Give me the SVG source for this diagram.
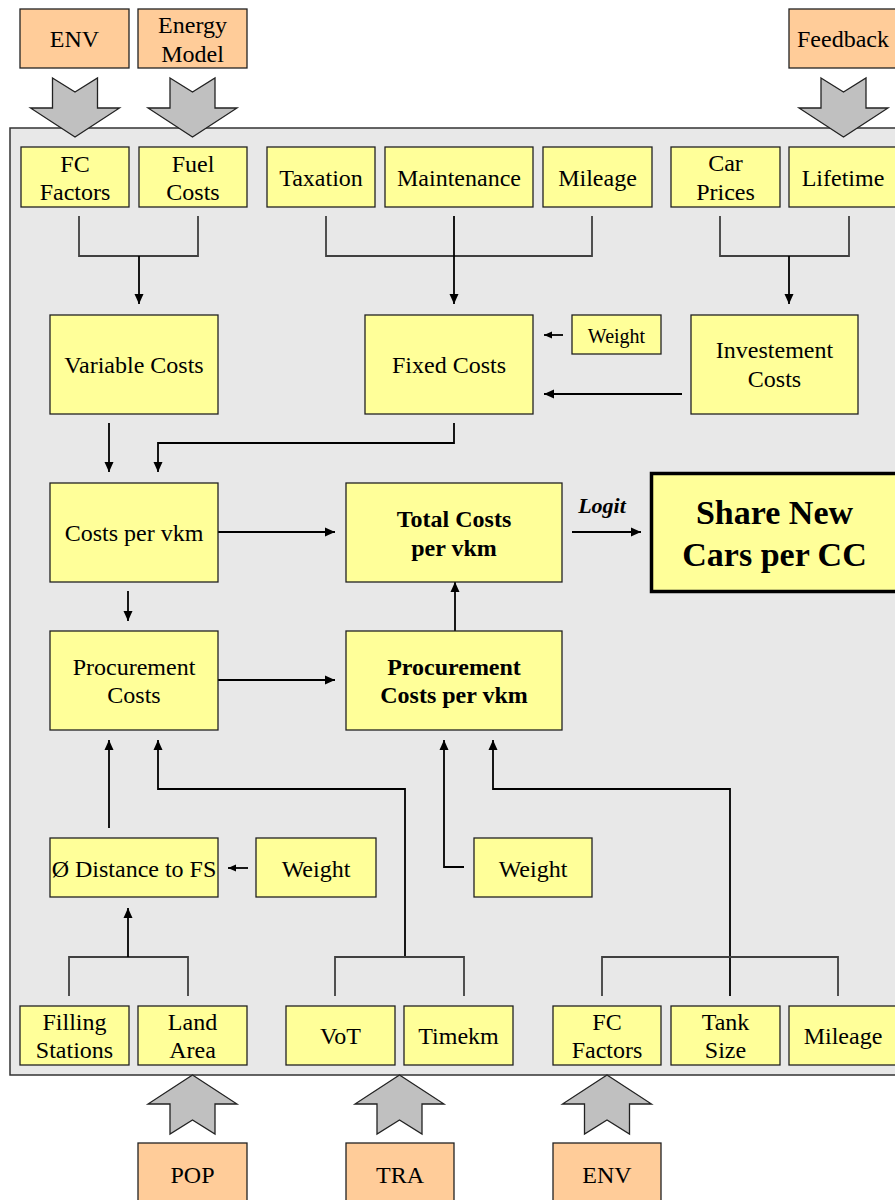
<svg xmlns="http://www.w3.org/2000/svg" width="895" height="1200" viewBox="0 0 895 1200">
<defs>
<marker id="ah" markerUnits="userSpaceOnUse" markerWidth="10" markerHeight="10" refX="10" refY="5" orient="auto">
<path d="M0,0.5 L10,5 L0,9.5 z" fill="#000"/>
</marker>
<marker id="ahs" markerUnits="userSpaceOnUse" markerWidth="8" markerHeight="8" refX="8" refY="4" orient="auto">
<path d="M0,0.5 L8,4 L0,7.5 z" fill="#000"/>
</marker>
<style>
text{font-family:"Liberation Serif","Times New Roman",serif;font-size:24px;fill:#000;text-anchor:middle}
.b{font-weight:bold}
.y{fill:#FFFF99;stroke:#222;stroke-width:1.3}
.o{fill:#FFCC99;stroke:#222;stroke-width:1.3}
.big{fill:#C0C0C0;stroke:#222;stroke-width:1.3;stroke-linejoin:miter}
.br{fill:none;stroke:#404040;stroke-width:1.8}
.ar{fill:none;stroke:#000;stroke-width:1.8;marker-end:url(#ah)}
.as{fill:none;stroke:#000;stroke-width:1.8;marker-end:url(#ahs)}
</style>
</defs>
<rect width="895" height="1200" fill="#fff"/>
<rect id="container" x="10" y="128" width="895" height="947" fill="#E8E8E8" stroke="#333" stroke-width="1.5"/>

<g id="connectors">
<path class="br" d="M79,216 V256 H198 V216"/>
<path class="ar" d="M139,256 V304"/>
<path class="br" d="M326,216 V256 H592 V216"/>
<path class="ar" d="M454,216 V304"/>
<path class="br" d="M720,216 V256 H849 V216"/>
<path class="ar" d="M789,256 V304"/>
<path class="as" d="M563,335 H544"/>
<path class="ar" d="M682,394 H544"/>
<path class="ar" d="M109,423 V472"/>
<path class="ar" d="M454,423 V443 H158 V472"/>
<path class="ar" d="M218,532 H335"/>
<path class="ar" d="M572,532 H641"/>
<path class="ar" d="M128,591 V621"/>
<path class="ar" d="M218,680 H335"/>
<path class="ar" d="M455,631 V582"/>
<path class="ar" d="M109,828 V740"/>
<path class="ar" d="M405,957 V789 H158 V740"/>
<path class="ar" d="M464,867 H444 V740"/>
<path class="ar" d="M730,996 V789 H493 V740"/>
<path class="as" d="M248,868 H228"/>
<path class="br" d="M69,996 V957 H188 V996"/>
<path class="ar" d="M128,957 V908"/>
<path class="br" d="M335,996 V957 H464 V996"/>
<path class="br" d="M602,996 V957 H838 V996"/>
</g>

<g id="n-env-top"><rect class="o" x="20" y="9" width="109" height="59"/><text x="74.5" y="47">ENV</text></g>
<g id="n-energy"><rect class="o" x="138" y="9" width="109" height="59"/><text x="192.5" y="33">Energy</text><text x="192.5" y="62">Model</text></g>
<g id="n-feedback"><rect class="o" x="789" y="9" width="110" height="59"/><text x="843" y="47">Feedback</text></g>

<g id="a-env-top"><path class="big" d="M52.5,78 L75,92 L97.5,78 V108 H119.5 L75,137 L30.5,108 H52.5 Z"/></g>
<g id="a-energy"><path class="big" d="M170,78 L192.5,92 L215,78 V108 H237 L192.5,137 L148,108 H170 Z"/></g>
<g id="a-feedback"><path class="big" d="M821,78 L843.5,92 L866,78 V108 H888 L843.5,137 L799,108 H821 Z"/></g>

<g id="n-fc-top"><rect class="y" x="21" y="147" width="108" height="60"/><text x="75" y="172">FC</text><text x="75" y="200">Factors</text></g>
<g id="n-fuel"><rect class="y" x="139" y="147" width="108" height="60"/><text x="193" y="172">Fuel</text><text x="193" y="200">Costs</text></g>
<g id="n-tax"><rect class="y" x="267" y="147" width="108" height="60"/><text x="321" y="186">Taxation</text></g>
<g id="n-maint"><rect class="y" x="385" y="147" width="148" height="60"/><text x="459" y="186">Maintenance</text></g>
<g id="n-mileage-top"><rect class="y" x="543" y="147" width="109" height="60"/><text x="597.5" y="186">Mileage</text></g>
<g id="n-carprices"><rect class="y" x="671" y="147" width="109" height="60"/><text x="725.5" y="171">Car</text><text x="725.5" y="200">Prices</text></g>
<g id="n-lifetime"><rect class="y" x="789" y="147" width="110" height="60"/><text x="843" y="186">Lifetime</text></g>

<g id="n-varcosts"><rect class="y" x="50" y="315" width="168" height="99"/><text x="134" y="373">Variable Costs</text></g>
<g id="n-fixed"><rect class="y" x="365" y="315" width="168" height="99"/><text x="449" y="373">Fixed Costs</text></g>
<g id="n-weight1"><rect class="y" x="572" y="315" width="89" height="39"/><text x="616.5" y="343" style="font-size:20px">Weight</text></g>
<g id="n-invest"><rect class="y" x="691" y="315" width="167" height="99"/><text x="774.5" y="358">Investement</text><text x="774.5" y="387">Costs</text></g>

<g id="n-costsvkm"><rect class="y" x="50" y="483" width="168" height="99"/><text x="134" y="541">Costs per vkm</text></g>
<g id="n-total"><rect class="y" x="346" y="483" width="216" height="99"/><text class="b" x="454" y="527">Total Costs</text><text class="b" x="454" y="556">per vkm</text></g>
<text class="b" x="602" y="513" style="font-style:italic;font-size:22px">Logit</text>
<g id="n-share"><rect x="651.5" y="473.5" width="250" height="118" fill="#FFFF99" stroke="#000" stroke-width="3.5"/><text class="b" x="774.5" y="524" style="font-size:34px">Share New</text><text class="b" x="774.5" y="566" style="font-size:34px">Cars per CC</text></g>

<g id="n-proc"><rect class="y" x="50" y="631" width="168" height="99"/><text x="134" y="675">Procurement</text><text x="134" y="703">Costs</text></g>
<g id="n-procvkm"><rect class="y" x="346" y="631" width="216" height="99"/><text class="b" x="454" y="675">Procurement</text><text class="b" x="454" y="703">Costs per vkm</text></g>

<g id="n-dist"><rect class="y" x="50" y="838" width="168" height="59"/><text x="134" y="877">Ø Distance to FS</text></g>
<g id="n-weight2"><rect class="y" x="256" y="838" width="120" height="59"/><text x="316" y="877">Weight</text></g>
<g id="n-weight3"><rect class="y" x="474" y="838" width="118" height="59"/><text x="533" y="877">Weight</text></g>

<g id="n-filling"><rect class="y" x="20" y="1006" width="109" height="59"/><text x="74.5" y="1030">Filling</text><text x="74.5" y="1058">Stations</text></g>
<g id="n-land"><rect class="y" x="138" y="1006" width="109" height="59"/><text x="192.5" y="1030">Land</text><text x="192.5" y="1058">Area</text></g>
<g id="n-vot"><rect class="y" x="286" y="1006" width="109" height="59"/><text x="340.5" y="1044">VoT</text></g>
<g id="n-timekm"><rect class="y" x="404" y="1006" width="109" height="59"/><text x="458.5" y="1044">Timekm</text></g>
<g id="n-fc-bot"><rect class="y" x="553" y="1006" width="108" height="59"/><text x="607" y="1030">FC</text><text x="607" y="1058">Factors</text></g>
<g id="n-tank"><rect class="y" x="671" y="1006" width="109" height="59"/><text x="725.5" y="1030">Tank</text><text x="725.5" y="1058">Size</text></g>
<g id="n-mileage-bot"><rect class="y" x="789" y="1006" width="110" height="59"/><text x="843" y="1044">Mileage</text></g>

<g id="a-pop"><path class="big" d="M192.5,1075 L237,1104 H215 V1134 L192.5,1120 L170,1134 V1104 H148 Z"/></g>
<g id="a-tra"><path class="big" d="M399.5,1075 L444,1104 H422 V1134 L399.5,1120 L377,1134 V1104 H355 Z"/></g>
<g id="a-env-bot"><path class="big" d="M607,1075 L651.5,1104 H629.5 V1134 L607,1120 L584.5,1134 V1104 H562.5 Z"/></g>

<g id="n-pop"><rect class="o" x="138" y="1143" width="109" height="70"/><text x="192.5" y="1183">POP</text></g>
<g id="n-tra"><rect class="o" x="346" y="1143" width="108" height="70"/><text x="400" y="1183">TRA</text></g>
<g id="n-env-bot"><rect class="o" x="553" y="1143" width="108" height="70"/><text x="607" y="1183">ENV</text></g>
</svg>
